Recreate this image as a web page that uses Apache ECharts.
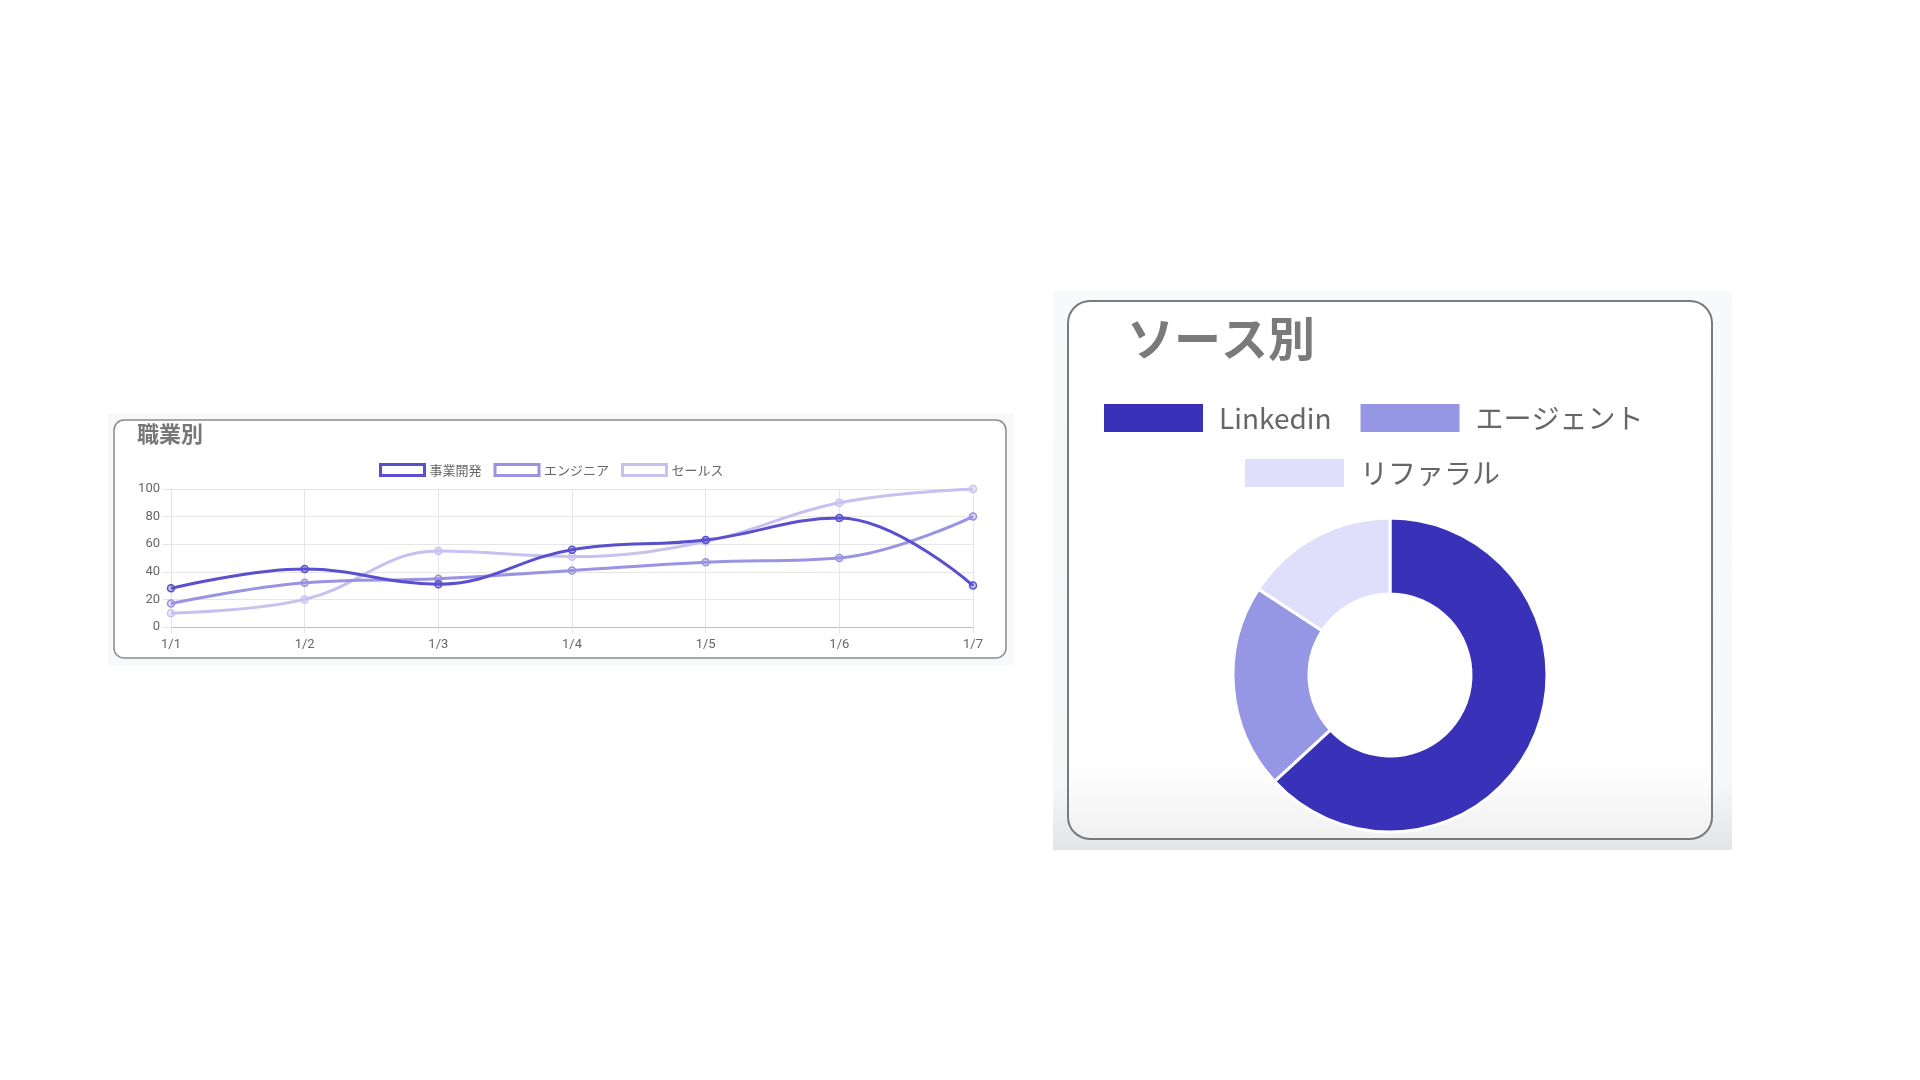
<!DOCTYPE html>
<html>
<head>
<meta charset="utf-8">
<script src="https://cdn.jsdelivr.net/npm/echarts@6/dist/echarts.min.js"></script>
<style>
html,body{margin:0;padding:0;background:#fff;}
#c{width:1920px;height:1080px;}
</style>
</head>
<body>
<div id="c"></div>
<script>
// ---- data ----
const days = ['1/1','1/2','1/3','1/4','1/5','1/6','1/7'];
const jobNames = ['事業開発','エンジニア','セールス'];
const bizDev = [28, 42, 31, 56, 63, 79, 30];
const engineer = [17, 32, 35, 41, 47, 50, 80];
const sales = [10, 20, 55, 51, 62, 90, 100];
const yTicks = [0, 20, 40, 60, 80, 100];
const sourceNames = ['Linkedin','エージェント','リファラル'];
const sourceValues = [60, 20, 15];

const lineColors = ['#5a4fcf', '#9a92e2', '#c8c0f0'];
const lineFills = ['rgba(90,79,207,0.35)', 'rgba(154,146,226,0.35)', 'rgba(200,192,240,0.35)'];
const pieColors = ['#3a31b9', '#9597e4', '#dfdefb'];
const jobSeries = [bizDev, engineer, sales];

const chart = echarts.init(document.getElementById('c'), null, {renderer:'canvas'});
const font = '"Noto Sans CJK JP", "Noto Sans", sans-serif';
const latin = 'Roboto, "Noto Sans CJK JP", sans-serif';

const option = {
  animation: false,
  textStyle: {fontFamily: font},
  graphic: [
    {type:'rect', z:-10, shape:{x:108,y:414,width:906,height:251}, style:{fill:'#f7f8fa'}},
    {type:'rect', z:-9, shape:{x:114,y:420,width:892,height:238,r:10}, style:{fill:'#ffffff', stroke:'#8a8a8a', lineWidth:1.5}},
    {type:'rect', z:-10, shape:{x:1053,y:291,width:679,height:559},
      style:{fill:{type:'linear',x:0,y:0,x2:0,y2:1,colorStops:[
        {offset:0,color:'#f8f9fa'},{offset:0.88,color:'#f6f7f8'},{offset:1,color:'#e3e4e6'}]}}},
    {type:'rect', z:-9, shape:{x:1068,y:301,width:644,height:538,r:22},
      style:{fill:{type:'linear',x:0,y:0,x2:0,y2:1,colorStops:[
        {offset:0,color:'#ffffff'},{offset:0.86,color:'#ffffff'},{offset:1,color:'#f0f0f0'}]},
        stroke:'#7a7a7a', lineWidth:2}}
  ],
  title: [
    {text:'職業別', left:137, top:423, padding:0, textStyle:{fontSize:22, fontWeight:'bold', color:'#777', fontFamily:font}},
    {text:'ソース別', left:1127, top:315, padding:0, textStyle:{fontSize:47, fontWeight:'bold', color:'#7a7a7a', fontFamily:font}}
  ],
  legend: [
    {
      left: 379, top: 463, padding: 0, itemWidth: 44, itemHeight: 11, itemGap: 12, icon: 'rect',
      data: jobNames.map((n,i)=>({name:n, icon:'rect', itemStyle:{color:'#ffffff', borderColor:lineColors[i], borderWidth:3}})),
      textStyle: {fontSize:13, color:'#666', fontFamily:font},
      selectedMode: false
    },
    {
      left: 1102, top: 402, padding: 0, itemWidth: 101, itemHeight: 30, itemGap: 27, icon: 'rect',
      data: [sourceNames[0], sourceNames[1]],
      textStyle: {fontSize:28, color:'#666', fontFamily:font, padding:[0,0,0,10]},
      selectedMode: false
    },
    {
      left: 1243, top: 457, padding: 0, itemWidth: 101, itemHeight: 30, icon: 'rect',
      data: [sourceNames[2]],
      textStyle: {fontSize:28, color:'#666', fontFamily:font, padding:[0,0,0,10]},
      selectedMode: false
    }
  ],
  grid: {left:171, top:489, width:802, height:138, containLabel:false},
  xAxis: {
    type:'category', data: days, boundaryGap:false,
    axisLine:{show:true, lineStyle:{color:'#bdbdbd', width:1}},
    axisTick:{show:true, length:6, lineStyle:{color:'#e3e3e3'}},
    axisLabel:{fontSize:13, color:'#666', margin:11, fontFamily:latin},
    splitLine:{show:true, lineStyle:{color:'#e6e6e6'}}
  },
  yAxis: {
    type:'value', min:0, max:100, interval:20,
    axisLine:{show:true, lineStyle:{color:'#e3e3e3'}},
    axisTick:{show:true, length:8, lineStyle:{color:'#e3e3e3'}},
    axisLabel:{fontSize:13, color:'#666', margin:11, fontFamily:latin,
      formatter: v => yTicks.includes(v) ? String(v) : ''},
    splitLine:{show:true, lineStyle:{color:'#e6e6e6'}}
  },
  series: [
    ...jobNames.map((n,i)=>({
      type:'line', name:n, data: jobSeries[i], smooth:0.4,
      symbol:'circle', symbolSize:7,
      lineStyle:{width:3, color:lineColors[i]},
      itemStyle:{color:lineFills[i], borderColor:lineColors[i], borderWidth:1.5},
      z: 10 - i
    })),
    {
      type:'pie', name:'source', center:[1390, 675], radius:[81, 157],
      startAngle:90, clockwise:true,
      label:{show:false}, labelLine:{show:false},
      itemStyle:{borderColor:'#ffffff', borderWidth:3},
      data: sourceNames.map((n,i)=>({name:n, value:sourceValues[i], itemStyle:{color:pieColors[i]}}))
    }
  ]
};
chart.setOption(option);
</script>
</body>
</html>
